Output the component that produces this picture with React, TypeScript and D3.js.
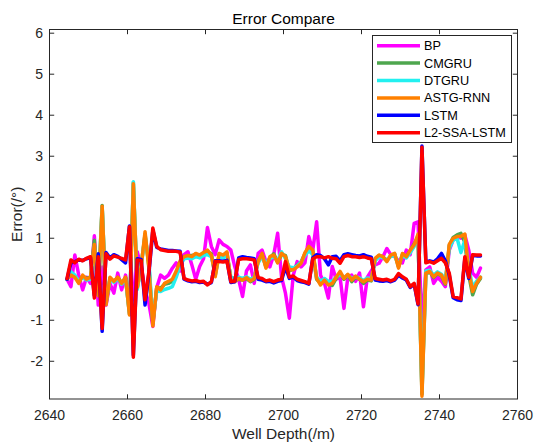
import React from "react";
import * as d3 from "d3";

// Sampled depths (m)
const depths: number[] = d3.range(2644.5, 2751, 1);

// Prediction error of each model at every depth (degrees)
const bp = [
  0.0, -0.18, 0.59, 0.1, -0.26, 0.05, -0.1, 1.06, -0.63, 0.3,
  -0.63, -0.1, -0.34, 0.15, -0.26, 0.1, -0.4, -0.5, 0.67, 0.3,
  -0.26, -0.6, -1.15, -0.2, 0.1, 0.02, 0.1, 0.27, 0.4, 0.2,
  0.6, 0.67, 0.35, 0.0, 0.31, 0.5, 1.26, 0.8, 0.6, 0.96,
  0.85, 0.8, 0.71, 0.31, 0.0, -0.42, 0.2, 0.35, -0.1, 0.63,
  0.71, 0.43, 0.3, 0.6, 1.12, 0.06, -0.34, -0.95, 0.1, 0.43,
  0.3, 0.4, 1.04, 0.7, 1.4, 0.1, -0.1, -0.46, 0.31, 0.0,
  0.05, -0.71, 0.05, 0.1, -0.05, 0.15, -0.67, 0.05, 0.2, 0.35,
  0.39, 0.55, 0.75, 0.6, 0.55, 0.45, 0.4, 0.71, 0.6, 1.36,
  1.4, -1.2, 0.23, 0.3, -0.1, 0.05, -0.05, -0.18, 0.71, 0.96,
  1.04, 1.0, 1.08, 0.71, 0.15, 0.05, 0.27,
];

const cmgru = [
  0.0, 0.12, 0.08, -0.08, 0.08, 0.02, 0.05, 0.95, -0.38, 1.8,
  -0.58, 0.02, -0.06, 0.04, -0.08, 0.03, -0.85, 2.36, -0.22, 0.32,
  1.1, 0.3, -1.08, -0.2, -0.22, -0.12, -0.1, -0.05, 0.15, 0.42,
  0.55, 0.56, 0.58, 0.6, 0.55, 0.62, 0.68, 0.62, 0.1, 0.6,
  0.56, 0.64, 0.0, -0.04, 0.0, -0.02, 0.02, -0.06, 0.0, 0.45,
  0.6, 0.3, 0.52, 0.62, 0.42, 0.6, 0.58, 0.2, 0.25, 0.34,
  0.42, 0.62, 0.78, 0.68, 0.0, -0.1, 0.0, -0.12, -0.15, 0.02,
  0.15, 0.0, 0.1, -0.06, 0.05, 0.0, -0.1, -0.02, -0.04, 0.48,
  0.58, 0.54, 0.45, 0.58, 0.62, 0.3, 0.6, 0.55, 0.7, 0.86,
  1.05, -2.8, 0.12, 0.18, 0.04, 0.14, 0.08, -0.12, 0.82, 1.02,
  1.08, 1.12, 0.9, 0.1, -0.38, -0.12, 0.02,
];

const dtgru = [
  0.0, 0.18, 0.1, -0.05, 0.05, -0.02, 0.0, 0.8, -0.35, 1.75,
  -0.55, 0.0, -0.08, 0.02, -0.12, 0.0, -0.8, 2.38, -0.25, 0.35,
  1.05, 0.4, -1.0, -0.28, -0.3, -0.25, -0.22, -0.18, 0.05, 0.35,
  0.5, 0.52, 0.5, 0.55, 0.52, 0.58, 0.6, 0.55, 0.15, 0.55,
  0.52, 0.58, 0.05, 0.02, 0.05, 0.02, 0.06, 0.0, 0.05, 0.4,
  0.55, 0.4, 0.5, 0.55, 0.45, 0.67, 0.5, 0.3, 0.28, 0.32,
  0.42, 0.58, 0.7, 0.6, 0.05, -0.05, 0.02, -0.05, -0.05, 0.05,
  0.12, 0.05, 0.1, 0.02, 0.06, 0.03, -0.03, 0.03, 0.0, 0.45,
  0.55, 0.52, 0.48, 0.55, 0.58, 0.35, 0.58, 0.52, 0.65, 0.8,
  1.0, -2.7, 0.2, 0.22, 0.1, 0.18, 0.12, 0.0, 0.75, 0.95,
  1.0, 0.65, 0.95, 0.3, -0.2, -0.05, 0.05,
];

const astgRnn = [
  0.0, 0.1, 0.05, -0.1, 0.1, 0.0, 0.05, 0.85, -0.4, 1.78,
  -0.62, 0.05, -0.05, 0.05, -0.1, 0.05, -0.87, 2.33, -0.2, 0.3,
  1.16, 0.25, -1.14, -0.18, -0.26, -0.1, -0.05, 0.0, 0.2, 0.45,
  0.55, 0.58, 0.55, 0.63, 0.59, 0.65, 0.71, 0.59, 0.06, 0.63,
  0.59, 0.67, -0.02, -0.06, 0.02, -0.02, 0.04, -0.04, 0.02, 0.43,
  0.63, 0.27, 0.55, 0.59, 0.4, 0.63, 0.55, 0.23, 0.23, 0.3,
  0.39, 0.65, 0.8, 0.71, 0.02, -0.14, -0.02, -0.14, -0.1, 0.05,
  0.19, 0.02, 0.12, -0.02, 0.08, 0.0, -0.06, 0.0, -0.02, 0.51,
  0.59, 0.55, 0.43, 0.59, 0.63, 0.27, 0.63, 0.55, 0.71, 0.84,
  1.1, -2.85, 0.15, 0.19, 0.06, 0.15, 0.1, -0.1, 0.85, 1.0,
  1.04, 1.05, 1.1, 0.2, -0.3, -0.1, 0.05,
];

const lstm = [
  0.0, 0.4, 0.43, 0.47, 0.46, 0.5, 0.53, -0.4, 0.62, -1.27,
  0.65, 0.52, 0.6, 0.56, 0.48, 0.4, 1.3, -1.85, 0.5, 0.48,
  -0.63, 0.15, 1.2, 0.78, 0.74, 0.72, 0.7, 0.7, 0.69, 0.68,
  0.0, -0.04, -0.06, -0.05, -0.08, -0.07, -0.12, -0.08, 0.45, 0.45,
  0.44, 0.46, -0.08, -0.06, 0.52, 0.55, 0.53, 0.52, 0.5, 0.0,
  -0.02, -0.06, -0.05, -0.09, -0.05, -0.03, 0.3, 0.02, 0.05, -0.03,
  -0.06, -0.08, -0.12, 0.52, 0.6, 0.58, 0.5, 0.35, 0.55, 0.56,
  0.45, 0.6, 0.62, 0.6, 0.58, 0.57, 0.6, 0.56, 0.54, -0.02,
  -0.04, -0.05, -0.03, -0.06, -0.02, 0.1, 0.03, -0.02, -0.2, -0.12,
  -0.62, 3.25, 0.42, 0.45, 0.42, 0.5, 0.63, 0.45, 0.1, -0.45,
  -0.5, -0.52, 0.5, 0.02, 0.58, 0.57, 0.57,
];

const l2SsaLstm = [
  0.02, 0.47, 0.4, 0.49, 0.45, 0.51, 0.55, -0.46, 0.55, -1.2,
  0.62, 0.49, 0.57, 0.54, 0.51, 0.47, 1.28, -1.9, 0.47, 0.45,
  -0.5, 0.2, 1.25, 0.8, 0.72, 0.7, 0.68, 0.68, 0.68, 0.66,
  0.02, -0.02, -0.04, -0.03, -0.06, -0.05, -0.14, -0.06, 0.43, 0.43,
  0.42, 0.44, -0.06, -0.05, 0.48, 0.5, 0.5, 0.49, 0.47, 0.04,
  0.02, -0.04, -0.02, -0.06, -0.02, 0.0, 0.43, 0.05, 0.08, 0.0,
  -0.03, -0.06, -0.1, 0.5, 0.55, 0.55, 0.52, 0.55, 0.51, 0.5,
  0.39, 0.55, 0.58, 0.55, 0.55, 0.53, 0.55, 0.52, 0.5, 0.02,
  0.0, -0.02, 0.0, -0.04, 0.0, 0.14, 0.06, 0.0, -0.18, -0.1,
  -0.6, 3.22, 0.4, 0.43, 0.39, 0.45, 0.51, 0.4, 0.15, -0.42,
  -0.45, -0.48, 0.55, 0.05, 0.6, 0.59, 0.59,
];

const seriesNames = ["BP", "CMGRU", "DTGRU", "ASTG-RNN", "LSTM", "L2-SSA-LSTM"];
const seriesValues = [bp, cmgru, dtgru, astgRnn, lstm, l2SsaLstm];
const seriesColors = ["#ff00ff", "#4ea64e", "#22f0f0", "#ff8000", "#0000ff", "#ff0000"];

const xTicks = [2640, 2660, 2680, 2700, 2720, 2740, 2760];
const yTicks = [-2, -1, 0, 1, 2, 3, 4, 5, 6];

const FONT = "'Liberation Sans', Arial, Helvetica, sans-serif";
const AXIS_COLOR = "#262626";

export default function App() {
  const width = 535;
  const height = 442;
  const left = 49.5;
  const right = 517.5;
  const top = 29.5;
  const bottom = 399;

  const x = d3.scaleLinear().domain([2640, 2760]).range([left, right]);
  const y = d3.scaleLinear().domain([-2.92, 6.09]).range([bottom, top]);

  const line = d3
    .line<number>()
    .x((_, i) => x(depths[i]))
    .y((d) => y(d));

  const tickLen = 4.7;

  // Legend geometry
  const lgX = 372.5;
  const lgY = 35.5;
  const lgW = 139;
  const lgH = 107;
  const rowStart = 45.7;
  const rowStep = 17.4;

  return (
    <svg
      width={width}
      height={height}
      style={{ position: "absolute", left: 0, top: 0, background: "#fff" }}
      fontFamily={FONT}
    >
      <rect x={0} y={0} width={width} height={height} fill="#fff" />
      <defs>
        <clipPath id="plot-area">
          <rect x={left} y={top} width={right - left} height={bottom - top} />
        </clipPath>
      </defs>

      {/* data lines */}
      <g clipPath="url(#plot-area)">
        {seriesValues.map((vals, k) => (
          <path
            key={seriesNames[k]}
            d={line(vals) || ""}
            fill="none"
            stroke={seriesColors[k]}
            strokeWidth={3.5}
            strokeLinejoin="round"
            strokeLinecap="round"
          />
        ))}
      </g>

      {/* axes box */}
      <rect
        x={left}
        y={top}
        width={right - left}
        height={bottom - top}
        fill="none"
        stroke={AXIS_COLOR}
        strokeWidth={1}
      />

      {/* x ticks */}
      {xTicks.map((t) => (
        <g key={"x" + t}>
          <line x1={x(t)} x2={x(t)} y1={bottom} y2={bottom - tickLen} stroke={AXIS_COLOR} />
          <line x1={x(t)} x2={x(t)} y1={top} y2={top + tickLen} stroke={AXIS_COLOR} />
          <text x={x(t)} y={420} textAnchor="middle" fontSize={14} fill={AXIS_COLOR}>
            {t}
          </text>
        </g>
      ))}

      {/* y ticks */}
      {yTicks.map((t) => (
        <g key={"y" + t}>
          <line x1={left} x2={left + tickLen} y1={y(t)} y2={y(t)} stroke={AXIS_COLOR} />
          <line x1={right} x2={right - tickLen} y1={y(t)} y2={y(t)} stroke={AXIS_COLOR} />
          <text x={43} y={y(t) + 5} textAnchor="end" fontSize={14} fill={AXIS_COLOR}>
            {t}
          </text>
        </g>
      ))}

      {/* title and axis labels */}
      <text x={(left + right) / 2} y={24} textAnchor="middle" fontSize={15.5} fill="#000">
        Error Compare
      </text>
      <text x={(left + right) / 2} y={439} textAnchor="middle" fontSize={15.5} fill={AXIS_COLOR}>
        Well Depth(/m)
      </text>
      <text
        transform={`translate(21.5, ${(top + bottom) / 2}) rotate(-90)`}
        textAnchor="middle"
        fontSize={15.5}
        fill={AXIS_COLOR}
      >
        Error(/°)
      </text>

      {/* legend */}
      <rect x={lgX} y={lgY} width={lgW} height={lgH} fill="#fff" stroke={AXIS_COLOR} strokeWidth={1} />
      {seriesNames.map((name, k) => {
        const ry = rowStart + k * rowStep;
        return (
          <g key={"lg" + name}>
            <line x1={377} x2={420} y1={ry} y2={ry} stroke={seriesColors[k]} strokeWidth={3.5} />
            <text x={424} y={ry + 4.5} fontSize={12.7} fill="#000">
              {name}
            </text>
          </g>
        );
      })}
    </svg>
  );
}
